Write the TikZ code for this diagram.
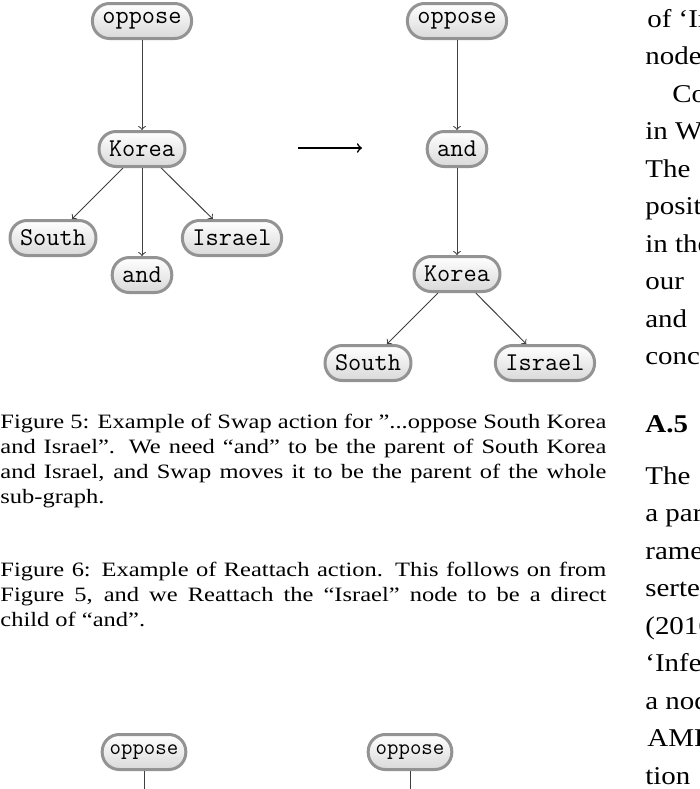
\documentclass[tikz,border=0pt]{standalone}
\usepackage{fontspec}
\setmainfont[FakeStretch=1.2]{Liberation Serif}
\newfontfamily\colfont[FakeStretch=1.13]{Liberation Serif}
\usetikzlibrary{arrows}

\newcommand\capfill[1]{\makebox[303pt][s]{#1}}

\tikzset{
  amr/.style={rectangle,rounded corners=8.5pt,draw=gray!85,line width=1.5pt,
    top color=white,bottom color=gray!30,minimum height=17.5pt,
    inner xsep=5pt,inner ysep=0pt,font=\ttfamily\fontsize{12.8}{13}\selectfont},
  amrsmall/.style={amr,inner xsep=3.75pt,font=\ttfamily\fontsize{11.1}{12}\selectfont},
  edge/.style={->,>=to,black!75,line width=0.5pt},
  capline/.style={anchor=base west,inner sep=0pt,font=\fontsize{10.2}{12.5}\selectfont},
  colline/.style={anchor=base west,inner sep=0pt,font=\colfont\fontsize{12.8}{18.75}\selectfont}
}

\begin{document}
\begin{tikzpicture}[x=0.5pt,y=-0.5pt]
\useasboundingbox (0,0) rectangle (700,789);
\clip (0,0) rectangle (700,789);

% before the swap
\node[amr] (opL) at (142,21) {oppose};
\node[amr] (koL) at (142,149) {Korea};
\node[amr] (soL) at (53,238) {South};
\node[amr] (anL) at (142,275) {and};
\node[amr] (isL) at (232,238) {Israel};

\draw[edge] (opL)--(koL);
\draw[edge] (koL)--(soL);
\draw[edge] (koL)--(anL);
\draw[edge] (koL)--(isL);

% after the swap
\node[amr] (opR) at (457,21) {oppose};
\node[amr] (anR) at (457,149) {and};
\node[amr] (koR) at (457,274) {Korea};
\node[amr] (soR) at (368,363) {South};
\node[amr] (isR) at (545,363) {Israel};

\draw[edge] (opR)--(anR);
\draw[edge] (anR)--(koR);
\draw[edge] (koR)--(soR);
\draw[edge] (koR)--(isR);

\coordinate (swapA) at (298,148);
\coordinate (swapB) at (362,148);
\draw[->,>=to,line width=0.8pt] (swapA)--(swapB);

% captions
\node[capline] (capA1) at (0,428) {\capfill{Figure 5: Example of Swap action for ”...oppose South Korea}};
\node[capline] (capA2) at (0,453) {\capfill{and Israel”. We need “and” to be the parent of South Korea}};
\node[capline] (capA3) at (0,478) {\capfill{and Israel, and Swap moves it to be the parent of the whole}};
\node[capline] (capA4) at (0,503) {sub-graph.};
\node[capline] (capB1) at (0,576) {\capfill{Figure 6: Example of Reattach action. This follows on from}};
\node[capline] (capB2) at (0,601) {\capfill{Figure 5, and we Reattach the “Israel” node to be a direct}};
\node[capline] (capB3) at (0,626) {child of “and”.};

% next figure, cut off
\node[amrsmall] (opC) at (144,752) {oppose};
\node[amrsmall] (opD) at (410,752) {oppose};
\coordinate (downC) at (144,800);
\coordinate (downD) at (410,800);
\draw[black!75,line width=0.5pt] (opC)--(downC);
\draw[black!75,line width=0.5pt] (opD)--(downD);

% right column
\node[colline] (r1) at (647,27) {of ‘Insert’};
\node[colline] (r2) at (645,64.5) {node};
\node[colline] (r3) at (672,102) {Concepts};
\node[colline] (r4) at (645,139.5) {in Wang};
\node[colline] (r5) at (645,177) {The};
\node[colline] (r6) at (645,214.5) {position};
\node[colline] (r7) at (645,252) {in the};
\node[colline] (r8) at (645,289.5) {our};
\node[colline] (r9) at (645,327) {and};
\node[colline] (r10) at (645,364.5) {concept};
\node[colline,font=\colfont\bfseries\fontsize{12.8}{18.75}\selectfont] (r11) at (645,432) {A.5};
\node[colline] (r12) at (645,484) {The};
\node[colline] (r13) at (645,521.5) {a parse};
\node[colline] (r14) at (645,559) {rameter};
\node[colline] (r15) at (645,596.5) {serted};
\node[colline] (r16) at (645,634) {(2016)};
\node[colline] (r17) at (645,671.5) {‘Infer’};
\node[colline] (r18) at (645,709) {a node};
\node[colline] (r19) at (647,746.5) {AMR};
\node[colline] (r20) at (645,784) {tion};
\end{tikzpicture}
\end{document}
